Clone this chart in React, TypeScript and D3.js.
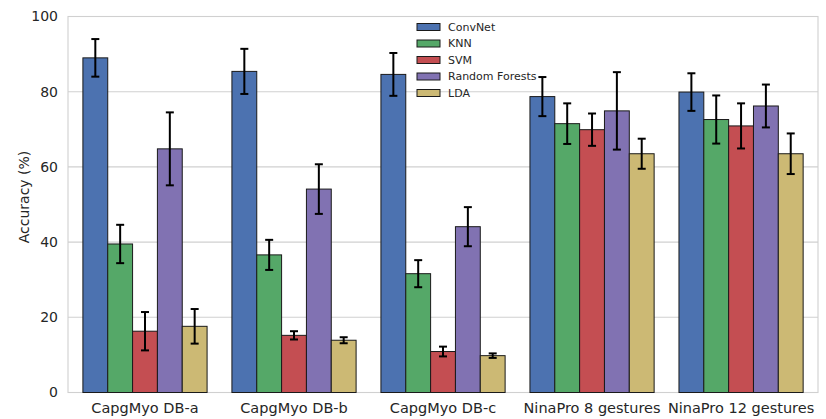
import React from "react";
import * as d3 from "d3";

const categories = ["CapgMyo DB-a", "CapgMyo DB-b", "CapgMyo DB-c", "NinaPro 8 gestures", "NinaPro 12 gestures"];
const seriesNames = ["ConvNet", "KNN", "SVM", "Random Forests", "LDA"];
const convnet = [89.0, 85.4, 84.6, 78.7, 79.9];
const convnetErr = [5.0, 6.0, 5.7, 5.2, 5.0];
const knn = [39.5, 36.6, 31.6, 71.5, 72.6];
const knnErr = [5.1, 4.0, 3.6, 5.4, 6.4];
const svm = [16.3, 15.2, 10.9, 69.9, 70.9];
const svmErr = [5.1, 1.1, 1.3, 4.3, 6.0];
const rf = [64.8, 54.1, 44.1, 74.9, 76.2];
const rfErr = [9.7, 6.6, 5.2, 10.3, 5.7];
const lda = [17.6, 13.9, 9.8, 63.5, 63.5];
const ldaErr = [4.6, 0.8, 0.6, 4.0, 5.4];
const yTicks = [0, 20, 40, 60, 80, 100];
const colors = ["#4C72B0", "#55A868", "#C44E52", "#8172B2", "#CCB974"];

const values = [convnet, knn, svm, rf, lda];
const errors = [convnetErr, knnErr, svmErr, rfErr, ldaErr];

const W = 826, H = 419;
const L = 68, R = 818, T = 16.5, B = 392.5;
const barW = 1 / 6;
const font = "DejaVu Sans, sans-serif";

export default function App() {
  const x = d3.scaleLinear().domain([-0.1, 4.933]).range([L, R]);
  const y = d3.scaleLinear().domain([0, 100]).range([B, T]);
  const bw = x(barW) - x(0);
  return (
    <svg width={W} height={H} style={{ position: "absolute", left: 0, top: 0, background: "#fff" }}>
      <rect x={0} y={0} width={W} height={H} fill="#fff" />
      {yTicks.map((t) => (
        <g key={t}>
          <line x1={L} x2={R} y1={y(t)} y2={y(t)} stroke="#d0d0d0" strokeWidth={1.1} />
          <text x={58} y={y(t)} dy="0.35em" textAnchor="end" fontFamily={font} fontSize={14} fill="#262626">{t}</text>
        </g>
      ))}
      <rect x={L} y={T} width={R - L} height={B - T} fill="none" stroke="#d0d0d0" strokeWidth={1.1} />
      {values.map((vals, s) =>
        vals.map((v, i) => {
          const x0 = x(i + s * barW);
          return (
            <rect key={`b${s}-${i}`} x={x0} y={y(v)} width={bw} height={y(0) - y(v)} fill={colors[s]} stroke="#1a1a1a" strokeWidth={1} />
          );
        })
      )}
      {values.map((vals, s) =>
        vals.map((v, i) => {
          const cx = x(i + s * barW + barW / 2);
          const e = errors[s][i];
          return (
            <g key={`e${s}-${i}`} stroke="#000" strokeWidth={2}>
              <line x1={cx} x2={cx} y1={y(v + e)} y2={y(v - e)} />
              <line x1={cx - 4} x2={cx + 4} y1={y(v + e)} y2={y(v + e)} />
              <line x1={cx - 4} x2={cx + 4} y1={y(v - e)} y2={y(v - e)} />
            </g>
          );
        })
      )}
      {categories.map((c, i) => (
        <text key={c} x={x(i + 2.5 * barW)} y={413} textAnchor="middle" fontFamily={font} fontSize={14.5} fill="#262626">{c}</text>
      ))}
      <text transform={`translate(29,197) rotate(-90)`} textAnchor="middle" fontFamily={font} fontSize={14} fill="#262626">Accuracy (%)</text>
      {seriesNames.map((n, s) => {
        const cy = 27 + s * 16.5;
        return (
          <g key={n}>
            <rect x={417} y={cy - 3.5} width={23} height={7} fill={colors[s]} stroke="#1a1a1a" strokeWidth={1} />
            <text x={448} y={cy} dy="0.35em" fontFamily={font} fontSize={11} fill="#262626">{n}</text>
          </g>
        );
      })}
    </svg>
  );
}
